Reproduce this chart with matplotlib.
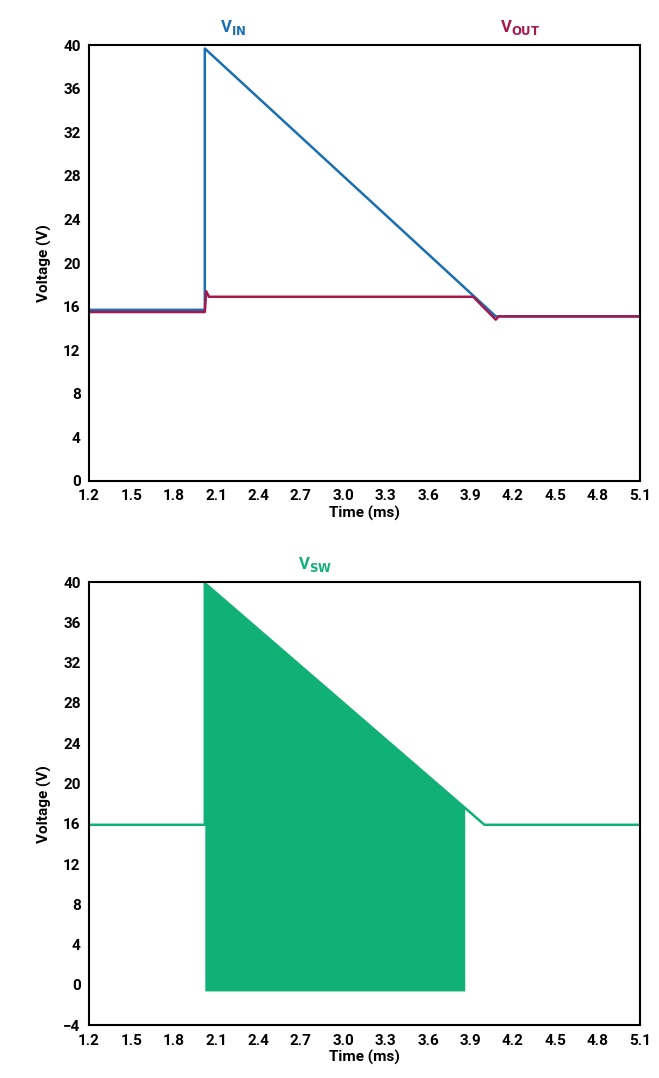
import matplotlib
matplotlib.use("Agg")
import matplotlib.pyplot as plt

vin_t = [1.2, 2.02, 2.02, 4.08, 5.1]
vin_v = [15.7, 15.7, 39.7, 15.1, 15.1]
vout_t = [1.2, 2.02, 2.03, 2.05, 3.92, 4.08, 4.10, 5.1]
vout_v = [15.5, 15.5, 17.4, 16.9, 16.9, 14.8, 15.1, 15.1]
vsw_t = [1.2, 2.02, 2.02, 4.0, 5.1]
vsw_v = [15.9, 15.9, 39.9, 15.9, 15.9]
fill_t = [2.02, 3.86]
fill_top = [39.9, 17.6]
fill_bot = -0.6
xticks = [1.2, 1.5, 1.8, 2.1, 2.4, 2.7, 3.0, 3.3, 3.6, 3.9, 4.2, 4.5, 4.8, 5.1]

BLUE, RED, GREEN = "#1a6fb3", "#a6174c", "#10b077"
plt.rcParams["font.family"] = "Roboto"
plt.rcParams["font.weight"] = "bold"

fig = plt.figure(figsize=(6.59, 10.78), dpi=100)
ax1 = fig.add_axes([0.135, 0.554, 0.836, 0.404])
ax2 = fig.add_axes([0.135, 0.049, 0.836, 0.411])

ax1.plot(vin_t, vin_v, color=BLUE, lw=1.8)
ax1.plot(vout_t, vout_v, color=RED, lw=1.8)
ax1.set_ylim(0, 40)
ax1.set_yticks(range(0, 41, 4))
ax1.text(2.22, 40.8, r"V$_\mathbf{IN}$", color=BLUE, fontsize=12, fontweight="bold", ha="center", va="bottom")
ax1.text(4.25, 40.8, r"V$_\mathbf{OUT}$", color=RED, fontsize=12, fontweight="bold", ha="center", va="bottom")

ax2.plot(vsw_t, vsw_v, color=GREEN, lw=1.8)
ax2.fill_between(fill_t, [fill_bot]*2, fill_top, color=GREEN, lw=0)
ax2.set_ylim(-4, 40)
ax2.set_yticks(range(-4, 41, 4))
ax2.set_yticklabels(["\u22124"] + [str(v) for v in range(0, 41, 4)])
ax2.text(2.8, 40.8, r"V$_\mathbf{SW}$", color=GREEN, fontsize=12, fontweight="bold", ha="center", va="bottom")

for ax in (ax1, ax2):
    ax.set_xlim(1.2, 5.1)
    ax.set_xticks(xticks)
    ax.set_xticklabels([f"{x:.1f}" for x in xticks])
    ax.tick_params(labelsize=11, length=0, pad=6)
    ax.set_xlabel("Time (ms)", fontsize=11, fontweight="bold", labelpad=2)
    ax.set_ylabel("Voltage (V)", fontsize=11, fontweight="bold", labelpad=8)
    for s in ax.spines.values():
        s.set_linewidth(1.5)

fig.savefig("out.png", dpi=100)
